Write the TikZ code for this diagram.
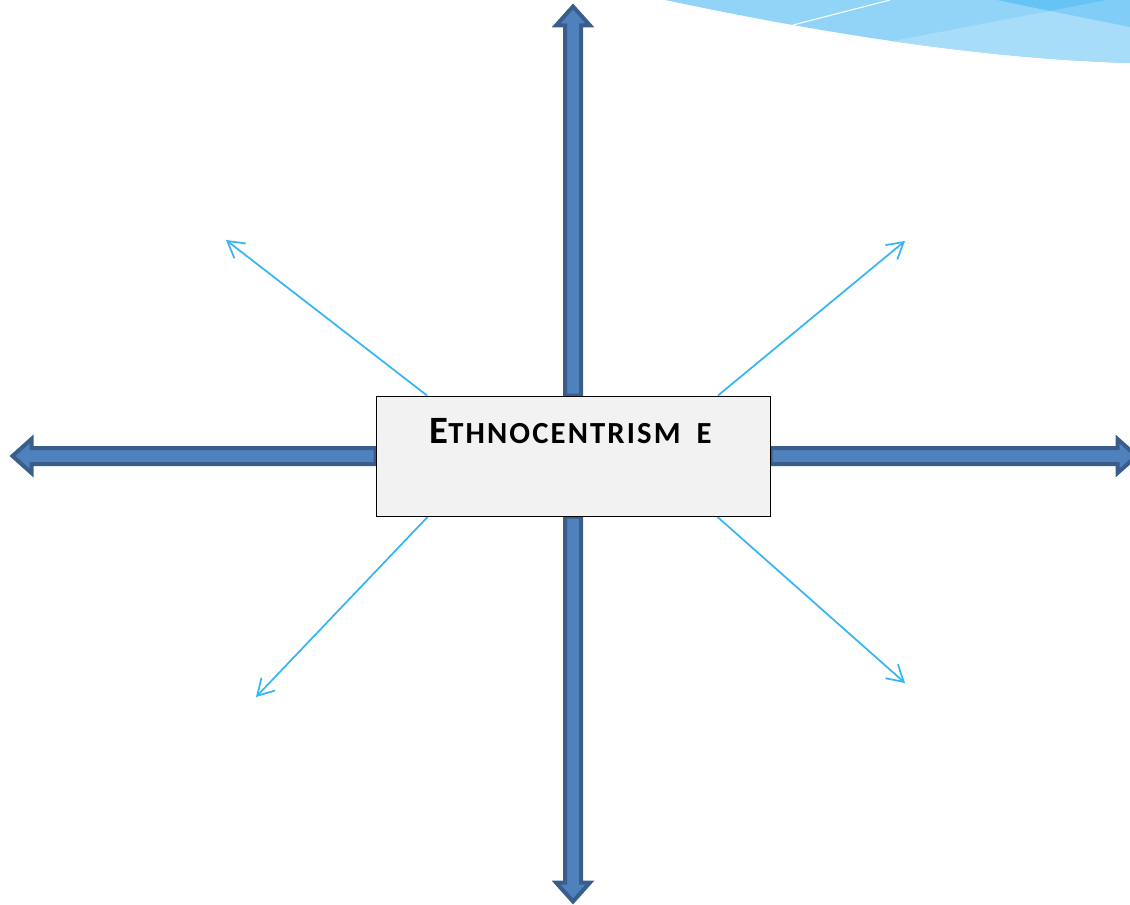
\documentclass[tikz,border=0pt]{standalone}
\usepackage{fontspec}
\newfontfamily\titlefont{Carlito}[LetterSpace=7]
\usetikzlibrary{arrows.meta,calc,backgrounds}

\definecolor{arrowdark}{HTML}{3A5E8C}
\definecolor{arrowlight}{HTML}{4F81BD}
\definecolor{boxgray}{HTML}{F2F2F2}
\definecolor{skyline}{HTML}{35B5F5}
\definecolor{wavemid}{HTML}{92D4F8}
\definecolor{wavelight}{HTML}{A8DDF9}
\definecolor{wavedark}{HTML}{66C4F5}
\definecolor{waveright}{HTML}{80CEF7}

\tikzset{
  fatarrow/.style={fill=arrowlight, draw=arrowdark, line width=3pt, line join=miter},
  thinarrow/.style={draw=skyline, line width=1.3pt, -{Straight Barb[length=12pt,width=14pt]}},
}

\begin{document}
\begin{tikzpicture}[x=0.75pt, y=-0.75pt]
    % cadre : 1130 x 905 pixels
    \clip (0,0) rectangle (1130,905);

    % la boite centrale
    \node[draw, fill=boxgray, line width=0.75pt, minimum width=295.5pt, inner sep=0pt,
          text height=35.25pt, text depth=54.75pt] (ethno) at (573,456)
      {\titlefont\bfseries\fontsize{29pt}{32pt}\selectfont E\fontsize{23pt}{26pt}\selectfont THNOCENTRISM\hspace{12pt}E\kern3.75pt};

    % bouts des fleches fines
    \coordinate (nw) at (226,240);
    \coordinate (ne) at (905,241);
    \coordinate (sw) at (256,697);
    \coordinate (se) at (905,683);

\begin{scope}[on background layer]
    % vagues en haut a droite
    \begin{scope}
    \clip (665,0) .. controls (760,20) and (950,58) .. (1130,63) -- (1130,0) -- cycle;
    \fill[wavemid] (650,0) rectangle (1130,70);
    \fill[wavelight] (800,58.8) -- (1140,-6.2) -- (1140,80) -- (800,80) -- cycle;
    \fill[wavedark] (997,0) -- (1050,11) -- (1109,0) -- cycle;
    \fill[waveright] (1050,11) -- (1140,-6.2) -- (1140,29) -- cycle;
    \draw[white, line width=0.8pt] (793,25) -- (890,0);
    \end{scope}

    % fleche vers le haut
    \begin{scope}[shift={(ethno.north)}, rotate=90]
    \draw[fatarrow] (0,-8) -- (370,-8) -- (370,-17) -- (389,0) -- (370,17) -- (370,8) -- (0,8) -- cycle;
    \end{scope}

    % fleche vers le bas
    \begin{scope}[shift={(ethno.south)}, rotate=270]
    \draw[fatarrow] (0,-8) -- (366,-8) -- (366,-17) -- (385,0) -- (366,17) -- (366,8) -- (0,8) -- cycle;
    \end{scope}

    % fleche vers la gauche
    \begin{scope}[shift={(ethno.west)}, rotate=180]
    \draw[fatarrow] (0,-8) -- (344,-8) -- (344,-17) -- (363,0) -- (344,17) -- (344,8) -- (0,8) -- cycle;
    \end{scope}

    % fleche vers la droite (coupee par le bord)
    \begin{scope}[shift={(ethno.east)}]
    \draw[fatarrow] (0,-8) -- (347,-8) -- (347,-17) -- (366,0) -- (347,17) -- (347,8) -- (0,8) -- cycle;
    \end{scope}

    % fleches fines en diagonale
    \draw[thinarrow] ($(ethno.north)+(-146,0)$) -- (nw);
    \draw[thinarrow] ($(ethno.north)+(145,0)$) -- (ne);
    \draw[thinarrow] ($(ethno.south)+(-145,0)$) -- (sw);
    \draw[thinarrow] ($(ethno.south)+(144,0)$) -- (se);
\end{scope}
\end{tikzpicture}
\end{document}
